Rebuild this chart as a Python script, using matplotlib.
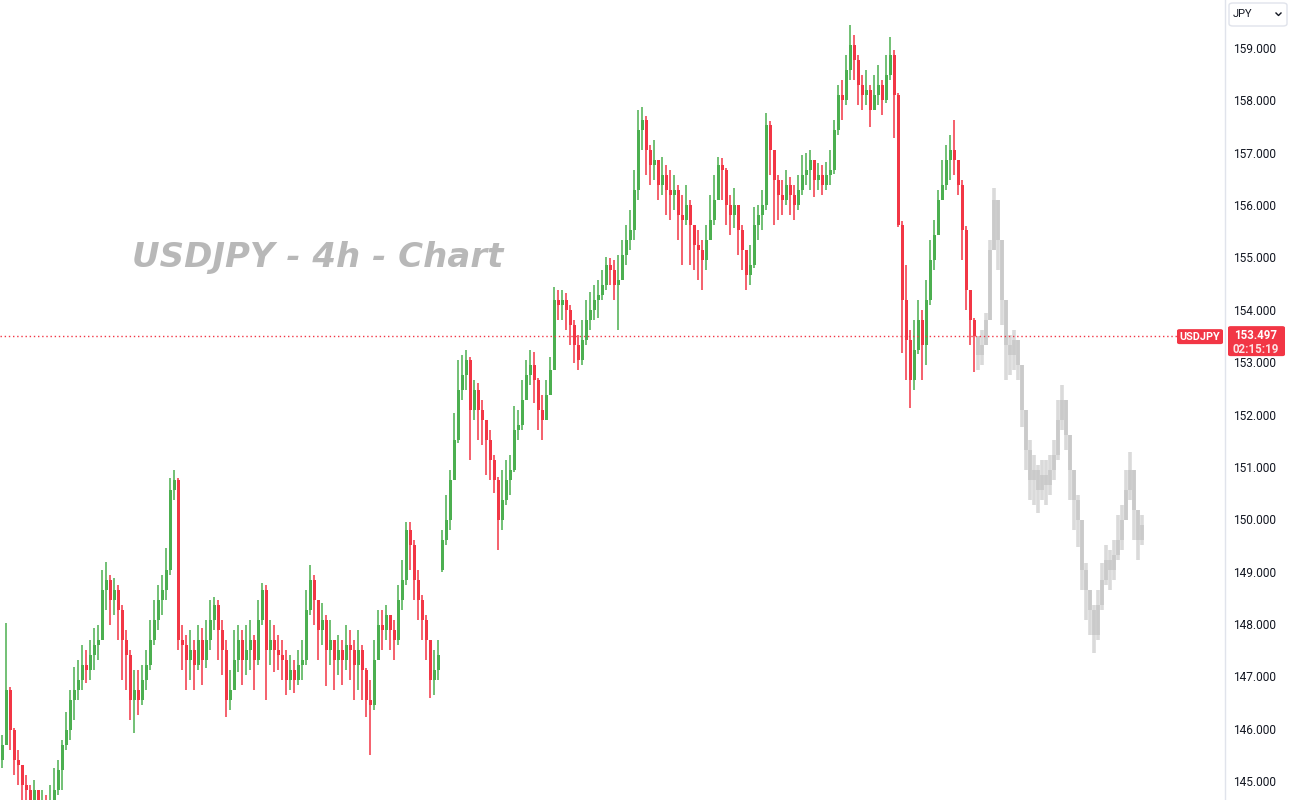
import numpy as np
import matplotlib.pyplot as plt
from matplotlib.patches import FancyBboxPatch
from matplotlib.lines import Line2D

# USDJPY 4h candles, open = previous close
first_open = 145.40
close = [
    145.69, 146.74, 145.97, 145.40, 145.31, 144.93, 144.83, 144.64, 144.83, 144.55,
    144.64, 144.45, 144.64, 144.83, 145.21, 145.69, 145.97, 146.55, 146.74, 146.93,
    147.22, 147.12, 147.41, 147.60, 147.69, 148.65, 148.84, 148.46, 148.65, 148.27,
    147.69, 147.41, 146.55, 146.74, 146.55, 146.93, 147.22, 147.69, 148.08, 148.46,
    148.65, 149.03, 150.56, 150.75, 147.69, 147.60, 147.31, 147.50, 147.22, 147.69,
    147.31, 147.69, 148.08, 148.36, 147.88, 147.50, 146.55, 146.74, 147.31, 147.69,
    147.31, 147.50, 147.69, 147.31, 148.08, 148.65, 147.50, 147.69, 147.50, 147.41,
    147.31, 146.93, 147.12, 146.93, 147.22, 147.31, 148.27, 148.84, 148.46, 147.88,
    148.08, 147.50, 147.69, 147.31, 147.50, 147.31, 147.60, 147.50, 147.22, 147.50,
    147.12, 146.55, 146.45, 147.31, 147.98, 147.88, 148.17, 147.88, 147.69, 148.46,
    148.84, 149.79, 149.51, 148.84, 148.46, 148.08, 147.69, 146.93, 147.12, 147.41,
    149.60, 149.99, 150.75, 151.51, 152.47, 152.76, 153.04, 152.09, 152.47, 152.09,
    151.90, 151.51, 151.13, 150.75, 149.99, 150.37, 150.75, 150.94, 151.71, 151.80,
    152.28, 152.76, 152.95, 152.66, 152.09, 151.90, 152.37, 152.85, 154.19, 154.09,
    154.19, 154.00, 153.71, 153.33, 153.04, 153.42, 153.81, 154.00, 154.19, 154.28,
    154.47, 154.86, 154.76, 154.47, 154.57, 155.05, 155.33, 155.53, 156.29, 157.43,
    157.63, 157.05, 156.77, 156.86, 156.38, 156.57, 156.29, 156.19, 156.29, 155.81,
    155.72, 156.00, 155.62, 155.24, 155.14, 154.95, 155.33, 155.72, 156.10, 156.77,
    156.67, 156.00, 155.81, 156.00, 155.53, 155.14, 154.67, 154.86, 155.62, 155.81,
    156.00, 157.53, 157.05, 156.48, 156.19, 156.10, 156.38, 156.19, 156.00, 156.29,
    156.57, 156.67, 156.86, 156.48, 156.57, 156.38, 156.57, 156.67, 157.43, 158.10,
    158.01, 158.58, 159.06, 158.77, 158.29, 158.10, 158.20, 157.82, 158.10, 158.29,
    158.01, 158.48, 158.87, 158.10, 155.62, 154.19, 153.42, 152.66, 153.23, 153.81,
    153.33, 154.19, 154.95, 155.43, 156.10, 156.38, 156.86, 157.05, 156.86, 156.38,
    155.53, 154.38, 153.81, 153.50,
]
high = [
    145.88, 148.02, 146.80, 146.01, 145.59, 145.31, 145.12, 144.93, 145.02, 144.83,
    144.83, 144.74, 144.93, 145.25, 145.40, 145.78, 146.32, 146.74, 147.18, 147.31,
    147.60, 147.50, 147.69, 147.92, 147.98, 149.03, 149.18, 148.94, 148.88, 148.74,
    148.36, 147.88, 147.50, 147.12, 147.12, 147.22, 147.50, 148.08, 148.46, 148.74,
    148.94, 149.45, 150.79, 150.94, 150.79, 147.98, 147.79, 147.88, 147.69, 147.98,
    147.92, 148.08, 148.46, 148.52, 148.46, 148.08, 147.69, 147.12, 147.88, 147.98,
    147.88, 147.98, 148.08, 147.79, 148.46, 148.78, 148.74, 148.08, 147.98, 147.79,
    147.69, 147.50, 147.41, 147.31, 147.50, 147.69, 148.65, 149.13, 148.94, 148.46,
    148.40, 148.17, 148.08, 147.69, 147.79, 147.69, 147.98, 147.88, 147.69, 147.88,
    147.60, 147.15, 146.93, 147.69, 148.27, 148.27, 148.36, 148.17, 148.08, 148.74,
    149.22, 149.95, 149.95, 149.60, 149.03, 148.55, 148.17, 147.69, 147.50, 147.69,
    149.79, 150.46, 150.94, 152.03, 153.04, 153.14, 153.23, 153.10, 152.66, 152.60,
    152.28, 151.90, 151.71, 151.23, 150.80, 150.94, 151.13, 151.23, 152.16, 152.09,
    152.66, 153.04, 153.23, 153.20, 152.70, 152.37, 152.66, 153.10, 154.44, 154.38,
    154.38, 154.32, 154.09, 153.81, 153.52, 153.81, 154.19, 154.34, 154.47, 154.57,
    154.76, 155.01, 154.99, 154.95, 155.05, 155.33, 155.62, 155.91, 156.67, 157.82,
    157.87, 157.70, 157.15, 157.24, 156.86, 156.92, 156.77, 156.67, 156.57, 156.38,
    156.19, 156.38, 156.10, 155.62, 155.53, 155.33, 155.62, 156.19, 156.57, 156.92,
    156.90, 156.70, 156.19, 156.33, 156.00, 155.62, 155.14, 155.24, 155.96, 156.00,
    156.29, 157.76, 157.60, 157.05, 156.57, 156.48, 156.67, 156.54, 156.38, 156.57,
    156.96, 156.99, 157.05, 156.86, 156.80, 156.77, 156.82, 157.05, 157.63, 158.29,
    158.39, 158.87, 159.44, 159.25, 158.87, 158.48, 158.58, 158.29, 158.48, 158.68,
    158.39, 158.87, 159.21, 158.96, 158.15, 155.70, 154.86, 153.62, 153.81, 154.19,
    154.00, 154.57, 155.33, 155.72, 156.29, 156.86, 157.15, 157.34, 157.63, 156.86,
    156.48, 155.60, 154.38, 153.85,
]
low = [
    145.25, 145.69, 145.59, 145.12, 144.93, 144.64, 144.55, 144.35, 144.45, 144.35,
    144.35, 144.26, 144.35, 144.55, 144.74, 144.83, 145.59, 145.78, 146.17, 146.55,
    146.74, 146.87, 146.93, 147.12, 147.31, 147.69, 148.27, 147.98, 148.17, 147.69,
    146.93, 146.74, 146.17, 145.92, 146.26, 146.45, 146.74, 147.12, 147.60, 147.88,
    148.17, 148.46, 148.94, 150.37, 147.50, 147.12, 146.74, 146.93, 146.74, 147.12,
    146.83, 147.16, 147.50, 147.88, 147.31, 147.03, 146.22, 146.36, 146.74, 147.08,
    146.83, 147.03, 147.12, 146.74, 147.22, 147.98, 146.55, 147.22, 147.08, 147.12,
    146.93, 146.64, 146.74, 146.68, 146.83, 146.93, 147.22, 148.17, 147.98, 147.31,
    147.60, 146.81, 147.22, 146.74, 147.03, 146.83, 147.12, 146.93, 146.55, 146.74,
    146.55, 146.22, 145.50, 146.36, 147.31, 147.50, 147.69, 147.50, 147.31, 147.60,
    148.27, 148.74, 149.03, 148.46, 148.08, 147.69, 147.31, 146.59, 146.64, 146.93,
    148.99, 149.51, 149.79, 150.75, 151.45, 152.28, 152.47, 151.13, 151.90, 151.51,
    151.42, 150.85, 150.75, 150.50, 149.41, 149.79, 150.27, 150.46, 150.90, 151.51,
    151.71, 152.28, 152.56, 152.22, 151.71, 151.51, 151.90, 152.37, 152.85, 153.81,
    153.81, 153.62, 153.33, 152.98, 152.85, 152.95, 153.33, 153.62, 153.81, 153.84,
    154.19, 154.38, 154.47, 154.19, 153.62, 154.67, 154.86, 155.14, 155.33, 156.10,
    157.05, 156.57, 156.38, 156.48, 156.10, 156.19, 155.81, 155.72, 155.91, 155.33,
    154.86, 155.62, 154.86, 154.76, 154.57, 154.38, 154.76, 155.33, 155.62, 156.10,
    156.10, 155.62, 155.43, 155.56, 155.05, 154.76, 154.38, 154.47, 154.80, 155.33,
    155.53, 155.91, 156.57, 155.62, 155.72, 155.81, 156.00, 155.81, 155.72, 155.91,
    156.19, 156.38, 156.29, 156.15, 156.29, 156.19, 156.29, 156.38, 156.60, 157.34,
    157.63, 157.91, 158.39, 158.39, 157.91, 157.82, 157.91, 157.49, 157.82, 157.91,
    157.72, 157.95, 158.39, 157.28, 155.58, 153.18, 152.66, 152.13, 152.47, 153.15,
    152.66, 152.95, 154.10, 154.76, 155.43, 156.10, 156.29, 156.48, 156.57, 156.19,
    154.95, 154.00, 153.33, 152.81,
]
# weekend gap: candle index -> its own open
gap_open = {110: 149.03}

# grey "ghost" pattern projected after the last candle
ghost_close = [
    153.14, 153.33, 153.81, 155.14, 156.10, 155.33, 154.19, 153.33, 153.14, 153.42,
    152.95, 152.09, 151.32, 150.75, 150.94, 150.56, 150.85, 150.65, 150.94, 151.23,
    151.90, 152.28, 151.61, 150.94, 150.37, 149.99, 149.03, 148.65, 148.27, 147.79,
    148.36, 148.84, 149.22, 149.03, 149.32, 149.60, 149.99, 150.56, 150.94, 150.18,
    149.60, 149.89,
]
ghost_high = [
    153.48, 153.62, 153.94, 155.33, 156.33, 156.10, 154.76, 153.81, 153.52, 153.62,
    153.42, 152.76, 151.99, 151.51, 151.23, 151.04, 151.13, 151.13, 151.23, 151.51,
    152.28, 152.56, 152.18, 151.51, 150.94, 150.46, 149.99, 149.16, 148.65, 148.36,
    148.65, 149.16, 149.51, 149.41, 149.60, 150.08, 150.27, 150.94, 151.28, 150.94,
    150.08, 150.08,
]
ghost_low = [
    152.85, 152.95, 153.42, 154.47, 155.33, 154.76, 153.71, 152.66, 152.76, 152.85,
    152.66, 151.76, 150.94, 150.37, 150.27, 150.12, 150.37, 150.27, 150.46, 150.75,
    151.13, 151.71, 151.32, 150.37, 149.79, 149.47, 148.65, 148.08, 147.79, 147.44,
    147.69, 148.27, 148.74, 148.65, 148.84, 149.22, 149.41, 149.99, 150.37, 149.60,
    149.22, 149.51,
]

price_ticks = [145, 146, 147, 148, 149, 150, 151, 152, 153, 154, 155, 156, 157, 158, 159]
last_price = 153.497
countdown = "02:15:19"
symbol = "USDJPY"
currency = "JPY"
title = "USDJPY - 4h - Chart"

GREEN = '#4caf50'
RED = '#f23645'
W, H = 1291, 800


def draw_candles(ax, x, o, c, h, l, up_color, down_color, body_w, wick_w, alpha=1.0):
    o, c, h, l = map(np.asarray, (o, c, h, l))
    colors = np.where(c >= o, up_color, down_color)
    top = np.maximum.reduce([h, o, c])
    bot = np.minimum.reduce([l, o, c])
    ax.vlines(x, bot, top, colors=colors, linewidth=wick_w, alpha=alpha)
    ax.bar(x, np.maximum(np.abs(c - o), 0.02), bottom=np.minimum(o, c),
           width=body_w, color=colors, alpha=alpha, linewidth=0)


fig = plt.figure(figsize=(W / 100, H / 100), dpi=100)
ax = fig.add_axes([0, 0, 1225 / W, 1])

x = np.arange(len(close))
opens = [first_open] + close[:-1]
for k, v in gap_open.items():
    opens[k] = v
draw_candles(ax, x, opens, close, high, low, GREEN, RED, 0.75, 1.1)

xg = len(close) + np.arange(len(ghost_close))
g_open = [close[-1]] + ghost_close[:-1]
draw_candles(ax, xg, g_open, ghost_close, ghost_high, ghost_low,
             '#bdbdbd', '#bdbdbd', 1.2, 2.6, alpha=0.55)

ax.axhline(last_price, color=RED, linestyle=(0, (1, 2)), linewidth=1)

ax.set_xlim(-0.5, 305.75)
ax.set_ylim(144.637, 159.917)
ax.set_xticks([])
ax.yaxis.tick_right()
ax.set_yticks(price_ticks)
ax.set_yticklabels([f"{t:.3f}" for t in price_ticks])
ax.tick_params(axis='y', length=0, pad=6, labelsize=8.6, labelcolor='#131722')
for lbl in ax.get_yticklabels():
    lbl.set_fontfamily('Roboto')
for s in ['top', 'bottom', 'left']:
    ax.spines[s].set_visible(False)
ax.spines['right'].set_color('#e0e3eb')
ax.spines['right'].set_linewidth(1)

# watermark
fig.text(132 / W, 1 - 267 / H, title, fontsize=24.5, fontweight='bold', fontstyle='italic',
         color='#b8b8b8', ha='left', va='baseline', family='DejaVu Sans')

# last price label boxes
fig.canvas.draw()
yp = ax.transData.transform((0, last_price))[1]  # display px from bottom
sym_box = FancyBboxPatch((1177 / W, (yp - 8) / H), 46 / W, 15 / H,
                         boxstyle='round,pad=0,rounding_size=0.002',
                         transform=fig.transFigure, facecolor=RED, edgecolor='none', zorder=5)
fig.add_artist(sym_box)
fig.text(1200 / W, (yp - 0.5) / H, symbol, color='white', fontsize=7.8, fontweight='bold',
         ha='center', va='center', zorder=6, family='Roboto')
price_box = FancyBboxPatch((1228 / W, (yp - 20) / H), 57 / W, 30 / H,
                           boxstyle='round,pad=0,rounding_size=0.002',
                           transform=fig.transFigure, facecolor=RED, edgecolor='none', zorder=5)
fig.add_artist(price_box)
fig.text(1256 / W, (yp + 1) / H, f"{last_price:.3f}", color='white', fontsize=8.3,
         fontweight='bold', ha='center', va='center', zorder=6, family='Roboto')
fig.text(1256 / W, (yp - 13) / H, countdown, color='#fde2e4', fontsize=8.3,
         fontweight='bold', ha='center', va='center', zorder=6, family='Roboto')

# currency selector
cur_box = FancyBboxPatch((1229 / W, 1 - 26 / H), 58 / W, 23 / H,
                         boxstyle='round,pad=0,rounding_size=0.003',
                         transform=fig.transFigure, facecolor='white',
                         edgecolor='#e0e3eb', linewidth=1, zorder=5)
fig.add_artist(cur_box)
fig.text(1233 / W, 1 - 14 / H, currency, color='#131722', fontsize=8, ha='left',
         va='center', zorder=6, family='Roboto')
fig.add_artist(Line2D([1276 / W, 1278.5 / W, 1281 / W],
                      [1 - 13 / H, 1 - 15.5 / H, 1 - 13 / H],
                      transform=fig.transFigure, color='#131722', linewidth=1, zorder=6))

fig.savefig('out.png', dpi=100)
